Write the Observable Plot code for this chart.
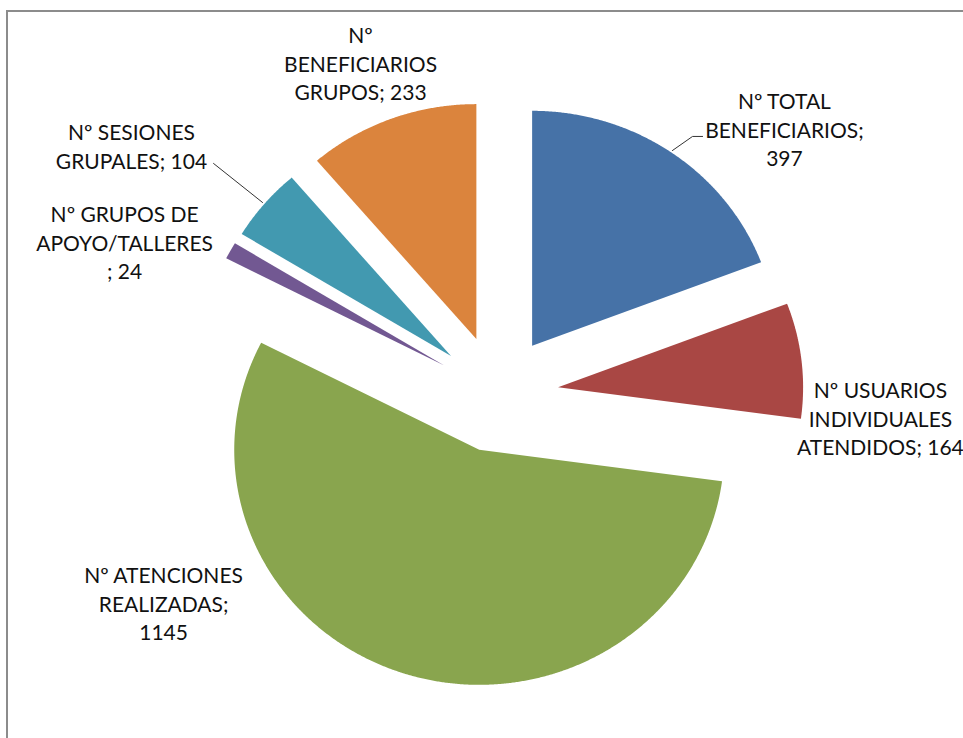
<!DOCTYPE html>
<html><head><meta charset="utf-8">
<script src="https://cdn.jsdelivr.net/npm/d3@7"></script>
<script src="https://cdn.jsdelivr.net/npm/@observablehq/plot@0.6"></script>
<style>
body{margin:0;background:#fff;}
#wrap{position:relative;width:963px;height:738px;overflow:hidden;}
#frame{position:absolute;left:6px;top:10px;right:-10px;bottom:-10px;border-top:2px solid #8c8c8c;border-left:2px solid #8c8c8c;pointer-events:none;}
svg{display:block;}
</style></head><body><div id="wrap"><div id="frame"></div></div>
<script>
// ---- data ----
const categories = ["Nº TOTAL BENEFICIARIOS", "Nº USUARIOS INDIVIDUALES ATENDIDOS", "Nº ATENCIONES REALIZADAS", "Nº GRUPOS DE APOYO/TALLERES", "Nº SESIONES GRUPALES", "Nº BENEFICIARIOS GRUPOS"];
const values = [397, 164, 1145, 24, 104, 233];
const labelLines = [
  ["Nº TOTAL", "BENEFICIARIOS;", "397"],
  ["Nº USUARIOS", "INDIVIDUALES", "ATENDIDOS; 164"],
  ["Nº ATENCIONES", "REALIZADAS;", "1145"],
  ["Nº GRUPOS DE", "APOYO/TALLERES", "; 24"],
  ["Nº SESIONES", "GRUPALES; 104"],
  ["Nº", "BENEFICIARIOS", "GRUPOS; 233"]
];
const colors = ["#4672a7", "#a94744", "#89a54e", "#725892", "#4299b0", "#db843d"];

// ---- layout (units of pie radius, relative to pie centre) ----
const W = 963, H = 738, CX = 497, CY = 393.5, RX = 245, RY = 235;
const EXPLODE = 0.249;
const labelPos = [[1.171, -1.130], [1.563, 0.100], [-1.363, 0.887], [-1.522, -0.649], [-1.494, -1.057], [-0.559, -1.411]];
const leaderPaths = {0: [[0.714, -1.036], [0.796, -1.096], [0.837, -1.096]], 4: [[-1.159, -0.981], [-0.959, -0.815]]};

// ---- geometry from data ----
const total = d3.sum(values);
let acc = 0;
const slices = categories.map((c, i) => {
  const a0 = acc / total * 2 * Math.PI; acc += values[i];
  const a1 = acc / total * 2 * Math.PI;
  return {c, a0, a1, mid: (a0 + a1) / 2};
});
const pts = [];
slices.forEach(s => {
  const ox = EXPLODE * Math.sin(s.mid), oy = -EXPLODE * Math.cos(s.mid);
  pts.push({c: s.c, x: ox, y: oy});
  const n = Math.max(4, Math.ceil((s.a1 - s.a0) / 0.005));
  for (let k = 0; k <= n; k++) {
    const a = s.a0 + (s.a1 - s.a0) * k / n;
    pts.push({c: s.c, x: ox + Math.sin(a), y: oy - Math.cos(a)});
  }
});
const labels = categories.map((c, i) => ({c, x: labelPos[i][0], y: labelPos[i][1], text: labelLines[i].join("\n")}));
const leaders = [];
Object.entries(leaderPaths).forEach(([i, p]) => p.forEach(([x, y]) => leaders.push({c: categories[i], x, y})));

const chart = Plot.plot({
  width: W, height: H, margin: 0,
  x: {domain: [-CX / RX, (W - CX) / RX], range: [0, W], axis: null},
  y: {domain: [-CY / RY, (H - CY) / RY], range: [0, H], axis: null},
  color: {domain: categories, range: colors},
  style: {fontFamily: "Lato, 'Open Sans', sans-serif", background: "transparent"},
  marks: [
    Plot.line(pts, {x: "x", y: "y", z: "c", fill: "c", stroke: "none", curve: "linear-closed"}),
    Plot.line(leaders, {x: "x", y: "y", z: "c", stroke: "#333", strokeWidth: 1}),
    Plot.text(labels, {x: "x", y: "y", text: "text", fontSize: 21, lineHeight: 1.36, fill: "#111", textAnchor: "middle"})
  ]
});
document.getElementById("wrap").prepend(chart);
</script>
</body></html>
